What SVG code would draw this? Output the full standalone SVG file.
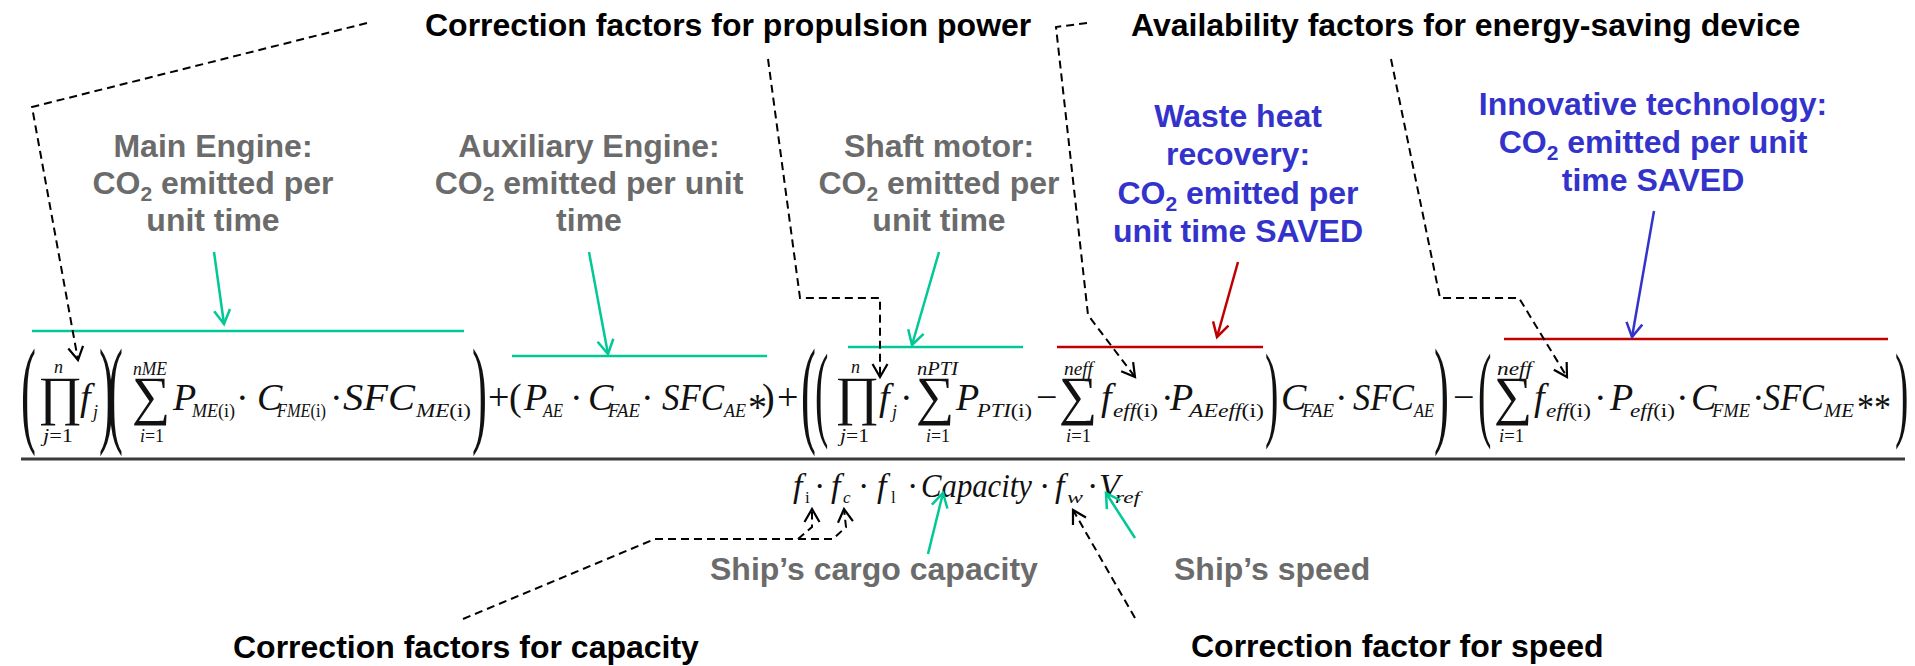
<svg xmlns="http://www.w3.org/2000/svg" width="1915" height="666" viewBox="0 0 1915 666">
<style>
.t{font-family:"Liberation Sans",Arial,sans-serif;font-weight:bold;font-size:32px}
.blk{fill:#000}
.gry{fill:#6b6b6b;text-anchor:middle}
.blu{fill:#3333cc;text-anchor:middle}
.gryl{fill:#6b6b6b}
.sub2{font-size:21px}
.m{font-family:"Liberation Serif","Times New Roman",serif;font-style:italic;font-size:38px;fill:#111}
.d{font-family:"Liberation Serif","Times New Roman",serif;font-style:italic;font-size:34px;fill:#111}
.s{font-family:"Liberation Serif","Times New Roman",serif;font-style:italic;font-size:18px;fill:#111}
.ds{font-size:17px}
.ss{font-size:18px}
.u{font-style:normal}
.op{font-family:"Liberation Serif","Times New Roman",serif;font-style:normal;font-size:54px;fill:#111}
.bp{font-family:"Liberation Serif","Times New Roman",serif;font-style:normal;font-size:118px;fill:#111}
.mp{font-family:"Liberation Serif","Times New Roman",serif;font-style:normal;font-size:106px;fill:#111}
.g{stroke:#00c896;stroke-width:2.5;fill:none}
.r{stroke:#c00000;stroke-width:2.5;fill:none}
.b{stroke:#3333cc;stroke-width:2.5;fill:none}
.k{stroke:#000;stroke-width:2;fill:none;stroke-dasharray:8 5}
</style>
<defs>
<marker id="ak" viewBox="-15 -9 18 18" markerWidth="18" markerHeight="18" refX="0" refY="0" orient="auto" markerUnits="userSpaceOnUse" overflow="visible"><path d="M-13,-7.5 L0,0 L-13,7.5" fill="none" stroke="#000" stroke-width="2.2"/></marker>
<marker id="ag" viewBox="-15 -9 18 18" markerWidth="18" markerHeight="18" refX="0" refY="0" orient="auto" markerUnits="userSpaceOnUse" overflow="visible"><path d="M-14,-8 L0,0 L-14,8" fill="none" stroke="#00c896" stroke-width="2.5"/></marker>
<marker id="ar" viewBox="-15 -9 18 18" markerWidth="18" markerHeight="18" refX="0" refY="0" orient="auto" markerUnits="userSpaceOnUse" overflow="visible"><path d="M-14,-8 L0,0 L-14,8" fill="none" stroke="#c00000" stroke-width="2.5"/></marker>
<marker id="ab" viewBox="-15 -9 18 18" markerWidth="18" markerHeight="18" refX="0" refY="0" orient="auto" markerUnits="userSpaceOnUse" overflow="visible"><path d="M-14,-8 L0,0 L-14,8" fill="none" stroke="#3333cc" stroke-width="2.5"/></marker>
</defs>
<rect width="1915" height="666" fill="#fff"/>

<g id="formula">
<line x1="21" y1="459" x2="1905" y2="459" stroke="#3a3a3a" stroke-width="3"/>
<g id="numerator">
<text class="bp" transform="translate(21,431) scale(0.38,1)">(</text>
<text class="op" x="38" y="414">∏</text>
<text class="s" x="54" y="373">n</text>
<text class="s" x="43" y="442" textLength="30" lengthAdjust="spacingAndGlyphs">j<tspan class="u">=1</tspan></text>
<text class="m" x="80" y="410">f<tspan class="ss" x="93" y="418">j</tspan></text>
<text class="bp" transform="translate(99,431) scale(0.38,1)">)</text>
<text class="bp" transform="translate(108,431) scale(0.38,1)">(</text>
<text class="op" x="132" y="414">∑</text>
<text class="s" x="133" y="375" textLength="34" lengthAdjust="spacingAndGlyphs">nME</text>
<text class="s" x="140" y="442" textLength="24" lengthAdjust="spacingAndGlyphs">i<tspan class="u">=1</tspan></text>
<text class="m" x="173" y="410">P<tspan class="ss" x="192" y="417" textLength="43" lengthAdjust="spacingAndGlyphs">ME<tspan class="u">(i)</tspan></tspan><tspan class="u" x="236" y="410">·</tspan></text>
<text class="m" x="257" y="410">C<tspan class="ss" x="277" y="417" textLength="49" lengthAdjust="spacingAndGlyphs">FME<tspan class="u">(i)</tspan></tspan><tspan class="u" x="330" y="410">·</tspan></text>
<text class="m" x="343" y="410"><tspan textLength="72" lengthAdjust="spacingAndGlyphs">SFC</tspan><tspan class="ss" x="416" y="417" textLength="55" lengthAdjust="spacingAndGlyphs">ME<tspan class="u">(i)</tspan></tspan></text>
<text class="bp" transform="translate(472,431) scale(0.38,1)">)</text>
<text class="m u" x="488" y="410">+<tspan x="509">(</tspan></text>
<text class="m" x="524" y="410">P<tspan class="ss" x="543" y="417" textLength="20" lengthAdjust="spacingAndGlyphs">AE</tspan><tspan class="u" x="570" y="410">·</tspan></text>
<text class="m" x="588" y="410">C<tspan class="ss" x="608" y="417" textLength="32" lengthAdjust="spacingAndGlyphs">FAE</tspan><tspan class="u" x="641" y="410">·</tspan></text>
<text class="m" x="662" y="410"><tspan textLength="62" lengthAdjust="spacingAndGlyphs">SFC</tspan><tspan class="ss" x="724" y="417" textLength="22" lengthAdjust="spacingAndGlyphs">AE</tspan><tspan class="u" x="748" y="420">*</tspan><tspan class="u" x="762" y="410">)</tspan><tspan class="u" x="777" y="410">+</tspan></text>
<text class="bp" transform="translate(801,431) scale(0.38,1)">(</text>
<text class="mp" transform="translate(815,427) scale(0.38,1)">(</text>
<text class="op" x="835" y="414">∏</text>
<text class="s" x="851" y="373">n</text>
<text class="s" x="840" y="442" textLength="29" lengthAdjust="spacingAndGlyphs">j<tspan class="u">=1</tspan></text>
<text class="m" x="879" y="410">f<tspan class="ss" x="892" y="418">j</tspan><tspan class="u" x="900" y="410">·</tspan></text>
<text class="op" x="916" y="414">∑</text>
<text class="s" x="917" y="375" textLength="41" lengthAdjust="spacingAndGlyphs">nPTI</text>
<text class="s" x="926" y="442" textLength="24" lengthAdjust="spacingAndGlyphs">i<tspan class="u">=1</tspan></text>
<text class="m" x="956" y="410">P<tspan class="ss" x="977" y="417" textLength="55" lengthAdjust="spacingAndGlyphs">PTI<tspan class="u">(i)</tspan></tspan><tspan class="u" x="1036" y="410">−</tspan></text>
<text class="op" x="1059" y="414">∑</text>
<text class="s" x="1064" y="375" textLength="29" lengthAdjust="spacingAndGlyphs">neff</text>
<text class="s" x="1066" y="442" textLength="25" lengthAdjust="spacingAndGlyphs">i<tspan class="u">=1</tspan></text>
<text class="m" x="1101" y="410">f<tspan class="ss" x="1113" y="417" textLength="45" lengthAdjust="spacingAndGlyphs">eff<tspan class="u">(i)</tspan></tspan><tspan class="u" x="1161" y="410">·</tspan></text>
<text class="m" x="1170" y="410">P<tspan class="ss" x="1189" y="417" textLength="75" lengthAdjust="spacingAndGlyphs">AEeff<tspan class="u">(i)</tspan></tspan></text>
<text class="mp" transform="translate(1265,427) scale(0.38,1)">)</text>
<text class="m" x="1281" y="410">C<tspan class="ss" x="1302" y="417" textLength="32" lengthAdjust="spacingAndGlyphs">FAE</tspan><tspan class="u" x="1335" y="410">·</tspan></text>
<text class="m" x="1353" y="410"><tspan textLength="61" lengthAdjust="spacingAndGlyphs">SFC</tspan><tspan class="ss" x="1414" y="417" textLength="20" lengthAdjust="spacingAndGlyphs">AE</tspan></text>
<text class="bp" transform="translate(1434,431) scale(0.38,1)">)</text>
<text class="m u" x="1453" y="410">−</text>
<text class="mp" transform="translate(1478,427) scale(0.38,1)">(</text>
<text class="op" x="1494" y="414">∑</text>
<text class="s" x="1497" y="375" textLength="35" lengthAdjust="spacingAndGlyphs">neff</text>
<text class="s" x="1499" y="442" textLength="25" lengthAdjust="spacingAndGlyphs">i<tspan class="u">=1</tspan></text>
<text class="m" x="1534" y="410">f<tspan class="ss" x="1546" y="417" textLength="45" lengthAdjust="spacingAndGlyphs">eff<tspan class="u">(i)</tspan></tspan><tspan class="u" x="1594" y="410">·</tspan></text>
<text class="m" x="1610" y="410">P<tspan class="ss" x="1630" y="417" textLength="45" lengthAdjust="spacingAndGlyphs">eff<tspan class="u">(i)</tspan></tspan><tspan class="u" x="1676" y="410">·</tspan></text>
<text class="m" x="1691" y="410">C<tspan class="ss" x="1712" y="417" textLength="38" lengthAdjust="spacingAndGlyphs">FME</tspan><tspan class="u" x="1752" y="410">·</tspan></text>
<text class="m" x="1763" y="410"><tspan textLength="61" lengthAdjust="spacingAndGlyphs">SFC</tspan><tspan class="ss" x="1824" y="417" textLength="30" lengthAdjust="spacingAndGlyphs">ME</tspan><tspan class="u" x="1857" y="420" textLength="34" lengthAdjust="spacingAndGlyphs">**</tspan></text>
<text class="mp" transform="translate(1895,427) scale(0.38,1)">)</text>
</g>
<g id="denominator">
<text class="d" x="793" y="497">f<tspan class="ds u" x="805" y="503">i</tspan><tspan class="u" x="814" y="497">·</tspan><tspan x="831" y="497">f</tspan><tspan class="ds" x="843" y="503">c</tspan><tspan class="u" x="858" y="497">·</tspan><tspan x="877" y="497">f</tspan><tspan class="ds u" x="891" y="503">l</tspan><tspan class="u" x="907" y="497">·</tspan><tspan x="921" y="497" textLength="111" lengthAdjust="spacingAndGlyphs">Capacity</tspan><tspan class="u" x="1039" y="497">·</tspan><tspan x="1055" y="497">f</tspan><tspan class="ds" x="1067" y="503" textLength="16" lengthAdjust="spacingAndGlyphs">w</tspan><tspan class="u" x="1087" y="497">·</tspan><tspan x="1099" y="497">V</tspan><tspan class="ds" x="1115" y="503" textLength="25" lengthAdjust="spacingAndGlyphs">ref</tspan></text>
</g>
</g>

<g id="title-propulsion"><text class="t blk" x="425" y="36">Correction factors for propulsion power</text></g>
<g id="title-availability"><text class="t blk" x="1131" y="36">Availability factors for energy-saving device</text></g>
<g id="title-capacity"><text class="t blk" x="233" y="658">Correction factors for capacity</text></g>
<g id="title-speed"><text class="t blk" x="1191" y="657">Correction factor for speed</text></g>

<g id="label-main-engine">
<text class="t gry" x="213" y="157">Main Engine:</text>
<text class="t gry" x="213" y="194">CO<tspan class="sub2" dy="7">2</tspan><tspan dy="-7"> emitted per</tspan></text>
<text class="t gry" x="213" y="231">unit time</text>
</g>
<g id="label-aux-engine">
<text class="t gry" x="589" y="157">Auxiliary Engine:</text>
<text class="t gry" x="589" y="194">CO<tspan class="sub2" dy="7">2</tspan><tspan dy="-7"> emitted per unit</tspan></text>
<text class="t gry" x="589" y="231">time</text>
</g>
<g id="label-shaft-motor">
<text class="t gry" x="939" y="157">Shaft motor:</text>
<text class="t gry" x="939" y="194">CO<tspan class="sub2" dy="7">2</tspan><tspan dy="-7"> emitted per</tspan></text>
<text class="t gry" x="939" y="231">unit time</text>
</g>
<g id="label-waste-heat">
<text class="t blu" x="1238" y="127">Waste heat</text>
<text class="t blu" x="1238" y="165">recovery:</text>
<text class="t blu" x="1238" y="204">CO<tspan class="sub2" dy="7">2</tspan><tspan dy="-7"> emitted per</tspan></text>
<text class="t blu" x="1238" y="242">unit time SAVED</text>
</g>
<g id="label-innovative">
<text class="t blu" x="1653" y="115">Innovative technology:</text>
<text class="t blu" x="1653" y="153">CO<tspan class="sub2" dy="7">2</tspan><tspan dy="-7"> emitted per unit</tspan></text>
<text class="t blu" x="1653" y="191">time SAVED</text>
</g>
<g id="label-cargo"><text class="t gryl" x="710" y="580">Ship’s cargo capacity</text></g>
<g id="label-speed"><text class="t gryl" x="1174" y="580">Ship’s speed</text></g>

<g id="connectors">
<line class="g" x1="32" y1="331" x2="464" y2="331"/>
<line class="g" x1="214" y1="252" x2="224" y2="324" marker-end="url(#ag)"/>
<line class="g" x1="512" y1="356" x2="767" y2="356"/>
<line class="g" x1="589" y1="252" x2="608" y2="354" marker-end="url(#ag)"/>
<line class="g" x1="848" y1="347" x2="1023" y2="347"/>
<line class="g" x1="939" y1="252" x2="912" y2="345" marker-end="url(#ag)"/>
<line class="r" x1="1057" y1="347" x2="1263" y2="347"/>
<line class="r" x1="1238" y1="262" x2="1217" y2="337" marker-end="url(#ar)"/>
<line class="r" x1="1504" y1="339" x2="1888" y2="339"/>
<line class="b" x1="1654" y1="211" x2="1632" y2="337" marker-end="url(#ab)"/>
<line class="g" x1="928" y1="554" x2="943" y2="493" marker-end="url(#ag)"/>
<line class="g" x1="1135" y1="538" x2="1106" y2="493" marker-end="url(#ag)"/>
<path class="k" d="M367,23 L32,107 L78,360" marker-end="url(#ak)"/>
<path class="k" d="M768,59 L800,298 L880,298 L880,377" marker-end="url(#ak)"/>
<path class="k" d="M1087,23 L1056,27 L1088,315 L1135,377" marker-end="url(#ak)"/>
<path class="k" d="M1391,59 L1440,298 L1519,298 L1567,377" marker-end="url(#ak)"/>
<path class="k" d="M463,619 L655,539 L833,539 L846,527 L844,509" marker-end="url(#ak)"/>
<path class="k" d="M798,539 L812,527 L812,509" marker-end="url(#ak)"/>
<path class="k" d="M1135,618 L1073,510" marker-end="url(#ak)"/>
</g>
</svg>
